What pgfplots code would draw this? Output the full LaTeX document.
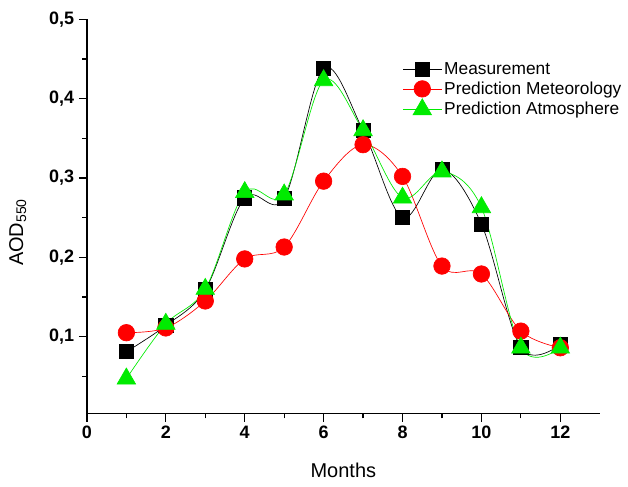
\documentclass[border=0pt]{standalone}
\usepackage{fontspec}
\setmainfont{Liberation Sans}
\usepackage{pgfplots}
\pgfplotsset{compat=1.18}
\definecolor{mygreen}{RGB}{0,235,0}
\begin{document}
\begin{tikzpicture}
\begin{axis}[
 scale only axis, width=385pt, height=296pt,
 xmin=0, xmax=13, ymin=0.003, ymax=0.5,
 axis x line*=bottom, axis y line*=left,
 axis line style={-, line width=0.9pt},
 tick align=outside,
 xtick={0,2,4,6,8,10,12}, minor xtick={1,3,5,7,9,11},
 ytick={0.1,0.2,0.3,0.4,0.5}, minor ytick={0.05,0.15,0.25,0.35,0.45},
 major tick length=6pt, minor tick length=3.5pt,
 every tick/.style={line width=0.9pt, black},
 ticklabel style={font=\bfseries\fontsize{13.5}{15}\selectfont},
 /pgf/number format/assume math mode=true,
 yticklabel style={/pgf/number format/.cd, use comma, fixed, fixed zerofill, precision=1},
 xlabel={Months}, ylabel={AOD\textsubscript{550}},
 label style={font=\fontsize{15}{17}\selectfont},
 xlabel style={at={(axis description cs:0.5,-0.145)}, anchor=center},
 ylabel style={at={(axis description cs:-0.135,0.46)}, anchor=center},
 legend style={draw=none, fill=none, at={(0.608,0.905)}, anchor=north west, font=\fontsize{13}{15}\selectfont, row sep=0pt},
 legend cell align=left,
 legend image code/.code={\draw[mark repeat=2,mark phase=2] plot coordinates {(0cm,0cm)(0.5cm,0cm)(1cm,0cm)};},
 every axis plot/.append style={line width=0.5pt, smooth, tension=0.55},
]
\addplot[black, mark=square*, mark size=5.3pt, mark options={solid, fill=black}] coordinates {
(1,0.081)(2,0.114)(3,0.159)(4,0.275)(5,0.274)(6,0.438)(7,0.360)(8,0.250)(9,0.311)(10,0.242)(11,0.086)(12,0.090)};
\addlegendentry{Measurement}
\addplot[red, mark=*, mark size=6.2pt, mark options={solid, fill=red, draw=red}] coordinates {
(1,0.105)(2,0.111)(3,0.145)(4,0.198)(5,0.213)(6,0.296)(7,0.342)(8,0.302)(9,0.189)(10,0.179)(11,0.107)(12,0.086)};
\addlegendentry{Prediction Meteorology}
\addplot[mygreen, mark=triangle*, mark size=8pt, mark options={solid, fill=mygreen, draw=mygreen}] coordinates {
(1,0.047)(2,0.116)(3,0.160)(4,0.282)(5,0.279)(6,0.423)(7,0.360)(8,0.275)(9,0.308)(10,0.263)(11,0.086)(12,0.086)};
\addlegendentry{Prediction Atmosphere}
\end{axis}
\path (current axis.south west) ++(-65.25pt,-54.75pt) rectangle ++(471pt,365.25pt);
\end{tikzpicture}
\end{document}
